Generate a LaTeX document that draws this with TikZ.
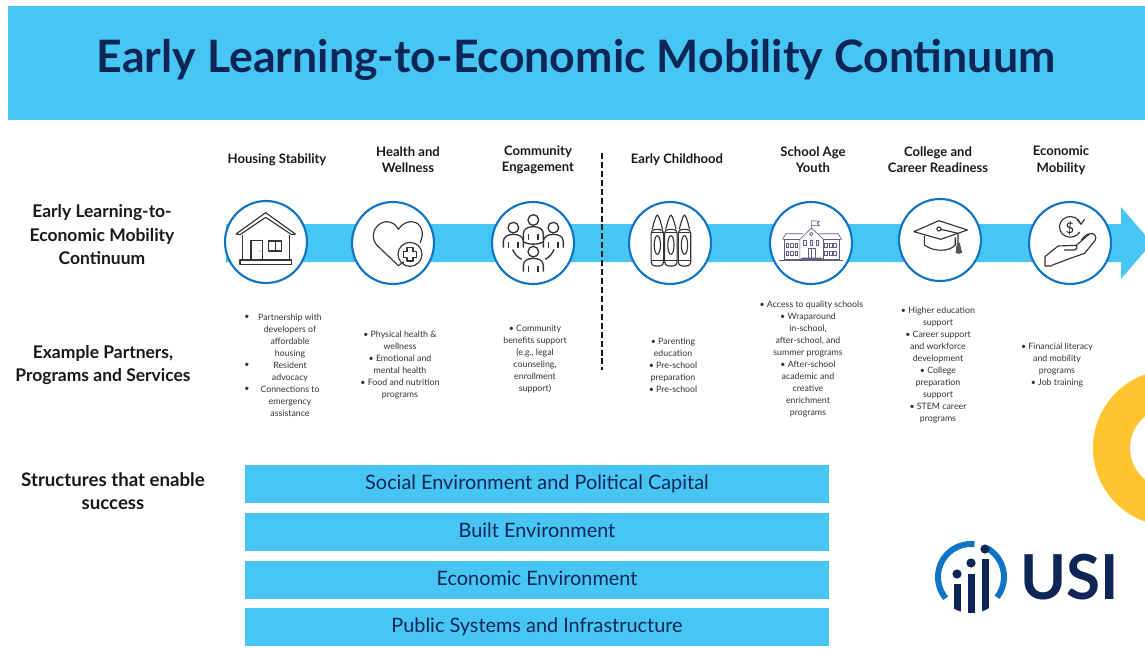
\documentclass[tikz,border=0pt]{standalone}
\usepackage{fontspec}
\setmainfont{Lato}
\definecolor{sky}{HTML}{48C6F3}
\definecolor{navy}{HTML}{0D2657}
\definecolor{ringblue}{HTML}{0E74C6}
\definecolor{gold}{HTML}{FFC42E}
\definecolor{ink}{HTML}{333333}
\definecolor{schoolc}{HTML}{5F5F85}
\newcommand{\fs}[2]{\fontsize{#1}{#2}\selectfont}
\tikzset{
  x=0.75pt,y=-0.75pt,
  band/.style={fill=sky,draw=none},
  bar/.style={band,minimum width=438pt,minimum height=28.5pt,inner sep=0pt,text=navy,font=\fs{14.9}{18},text height=11pt,text depth=3.5pt},
  hub/.style={circle,fill=white,draw=ringblue,line width=1.6pt,minimum size=61.5pt,inner sep=0pt},
  head/.style={align=center,font=\bfseries\fs{9.8}{12.4},text=black!90,inner sep=0pt},
  side/.style={align=center,font=\bfseries\fs{13.1}{17.6},text=black!90,inner sep=0pt},
  small/.style={align=center,font=\fs{6.6}{9},text=ink,inner sep=0pt},
  icon/.style={line width=0.85pt,draw=black!80,line join=round},
  zoomA/.style={shift={(200,190)},x=0.25pt,y=-0.25pt},
  zoomB/.style={shift={(600,190)},x=0.2607pt,y=-0.25pt},
}
\newcommand{\person}[2]{%
  \draw[icon,line width=1pt] (#1,#2) circle[radius=16];
  \draw[icon,line width=1pt] (#1-30,#2+60) -- (#1-30,#2+42) .. controls (#1-30,#2+26) and (#1-15,#2+20) .. (#1,#2+20) .. controls (#1+15,#2+20) and (#1+30,#2+26) .. (#1+30,#2+42) -- (#1+30,#2+60);
  \draw[icon,line width=1pt] (#1-14,#2+42) -- (#1-14,#2+60) (#1+14,#2+42) -- (#1+14,#2+60);
}
\newcommand{\crayon}[1]{%
  \draw[icon] (#1-15,118) -- (#1-9,95) .. controls (#1-5,82) and (#1-2,75) .. (#1,75) .. controls (#1+2,75) and (#1+5,82) .. (#1+9,95) -- (#1+15,118);
  \draw[icon,rounded corners=3pt] (#1-18,118) rectangle (#1+18,228);
  \draw[icon] (#1,165) ellipse[x radius=9,y radius=28];
  \draw[icon] (#1-18,128) -- (#1+18,128) (#1-18,212) -- (#1+18,212);
}
\begin{document}
\begin{tikzpicture}
\useasboundingbox (0,0) rectangle (1145,649);
\clip (0,0) rectangle (1145,649);
% title band
\fill[band] (8,6) rectangle (1145,120);
\node[inner sep=0pt,text=navy,font=\bfseries\fs{33.5}{38}] (title) at (576,60) {Early Learning-to-Economic Mobility Continuum};
% ring
\fill[gold,even odd rule] (1171,448) circle[radius=78] (1171,448) circle[radius=41];
% arrow
\fill[band] (226,224) -- (1121,224) -- (1121,207) -- (1152,243) -- (1121,279) -- (1121,262) -- (226,262) -- cycle;
% separator
\coordinate (sepA) at (602,153);
\coordinate (sepB) at (602,370);
\draw[black!90,line width=1.8pt,dash pattern=on 4.5pt off 2.2pt] (sepA) -- (sepB);
% hubs
\node[hub] (h1) at (266,242) {};
\node[hub] (h2) at (393,243) {};
\node[hub] (h3) at (533,243) {};
\node[hub] (h4) at (670,243) {};
\node[hub] (h5) at (811,243) {};
\node[hub] (h6) at (940,240) {};
\node[hub] (h7) at (1070,243) {};
% house
\begin{scope}[zoomA]
\draw[icon] (108,132) -- (197,68) -- (286,132) -- (275,134) -- (197,82) -- (120,134) -- cycle;
\draw[icon] (128,135) -- (128,210) (268,135) -- (268,210);
\draw[icon] (120,210) rectangle (275,223);
\draw[icon] (153,210) -- (153,152) -- (188,152) -- (188,210);
\fill[black!80] (180,183) circle[radius=2];
\draw[icon] (206,153) rectangle (245,183) (226,153) -- (226,183);
% heart
\draw[icon] (612,215) -- (595,227) -- (530,165) .. controls (505,135) and (530,95) .. (560,95) .. controls (575,95) and (590,105) .. (595,118) .. controls (605,100) and (625,95) .. (635,95) .. controls (665,97) and (675,130) .. (660,158);
\draw[icon] (630,193) circle[radius=36];
\draw[icon] (621,173) -- (639,173) -- (639,184) -- (650,184) -- (650,202) -- (639,202) -- (639,213) -- (621,213) -- (621,202) -- (610,202) -- (610,184) -- (621,184) -- cycle;
% people
\person{940}{113}
\person{1060}{113}
\person{1000}{90}
\person{1000}{185}
\draw[icon,line width=1pt] (938,178) .. controls (942,190) and (952,202) .. (965,208);
\draw[icon,line width=1pt] (1062,178) .. controls (1058,190) and (1048,202) .. (1035,208);
\draw[icon,line width=1pt] (970,155) .. controls (985,165) and (1015,165) .. (1030,155);
\end{scope}
\begin{scope}[zoomB]
% crayons
\crayon{165}
\crayon{204}
\crayon{243}
% school
\tikzset{sc/.style={line width=0.5pt,draw=schoolc}}
\draw[sc] (516,210) -- (700,210);
\draw[sc] (530,148) rectangle (590,208) (640,148) rectangle (688,208);
\draw[sc] (525,148) -- (535,131) -- (585,131) (630,131) -- (685,131) -- (695,148) -- (525,148);
\draw[sc,fill=white] (575,208) -- (575,148) -- (608,114) -- (643,148) -- (643,208);
\draw[sc] (608,114) -- (608,92) -- (631,94) -- (625,100) -- (631,107) -- (608,107);
\draw[sc] (608,132) circle[radius=5];
\foreach \wx in {539,552,565,650,663,676}
  \foreach \wy in {160,184}
    \draw[sc] (\wx-4,\wy) rectangle (\wx+4,\wy+13);
\foreach \wx in {590,608,625}
  \draw[sc] (\wx-4,152) rectangle (\wx+4,165);
\draw[sc] (598,208) -- (598,176) -- (620,176) -- (620,208) (609,176) -- (609,208);
\fill[schoolc] (570,210) -- (582,203) -- (636,203) -- (648,210) -- cycle;
% cap
\draw[icon] (903,125) -- (975,92) -- (1057,120) -- (980,148) -- cycle;
\draw[icon] (933,137) -- (933,165) .. controls (960,186) and (1005,186) .. (1022,165) -- (1022,142);
\draw[icon] (975,117) circle[radius=6] (981,118) -- (1030,130) -- (1030,158);
\fill[black!65] (1026,158) rectangle (1036,164) (1026,164) -- (1036,164) -- (1042,188) .. controls (1036,193) and (1028,193) .. (1023,188) -- cycle;
% money hand
\draw[icon] (1382,100) arc[start angle=-20,end angle=-330,radius=31];
\draw[icon] (1372,88) -- (1384,103) -- (1394,88);
\node[inner sep=0pt,font=\fs{11}{12},text=black!85] (dollar) at (1352,115) {\$};
\draw[icon] (1300,228) -- (1280,228) -- (1280,200) -- (1318,168) -- (1368,166) .. controls (1376,170) and (1372,180) .. (1362,180) -- (1335,180);
\draw[icon] (1368,168) -- (1408,132) .. controls (1420,125) and (1432,140) .. (1424,152) -- (1394,190) -- (1345,208) -- (1300,226);
\draw[icon] (1385,150) .. controls (1392,140) and (1402,130) .. (1408,132);
\end{scope}
% headers
\node[head] (t1) at (277,160) {Housing Stability};
\node[head] (t2) at (408,159.5) {Health and\\Wellness};
\node[head] (t3) at (538,160) {Community\\Engagement};
\node[head] (t4) at (677,160) {Early Childhood};
\node[head] (t5) at (813,159.5) {School Age\\Youth};
\node[head] (t6) at (938,159.5) {College and\\Career Readiness};
\node[head] (t7) at (1061,160) {Economic\\Mobility};
% side labels
\node[side] (s1) at (102,235) {Early Learning-to-\\Economic Mobility\\Continuum};
\node[side] (s2) at (103,365) {Example Partners,\\Programs and Services};
\node[side,font=\bfseries\fs{14}{17.6}] (s3) at (113,491) {Structures that enable\\success};
% lists
\node[small] (b1) at (247,365) {•\\ \mbox{}\\ \mbox{}\\ \mbox{}\\ •\\ \mbox{}\\ •\\ \mbox{}\\ \mbox{}};
\node[small] (l1) at (290,365) {Partnership with\\developers of\\affordable\\housing\\Resident\\advocacy\\Connections to\\emergency\\assistance};
\node[small] (l2) at (400,365) {• Physical health \&\\wellness\\• Emotional and\\mental health\\• Food and nutrition\\programs};
\node[small] (l3) at (535,359) {• Community\\benefits support\\(e.g., legal\\counseling,\\enrollment\\support)};
\node[small] (l4) at (673,365) {• Parenting\\education\\• Pre-school\\preparation\\• Pre-school};
\node[small] (l5) at (808,359) {\hspace*{5pt}• Access to quality schools\\• Wraparound\\in-school,\\after-school, and\\summer programs\\• After-school\\academic and\\creative\\enrichment\\programs};
\node[small] (l6) at (938,365) {• Higher education\\support\\• Career support\\and workforce\\development\\• College\\preparation\\support\\• STEM career\\programs};
\node[small] (l7) at (1057,365) {• Financial literacy\\and mobility\\programs\\• Job training};
% structure bars
\node[bar] (r1) at (537,484) {Social Environment and Political Capital};
\node[bar] (r2) at (537,532) {Built Environment};
\node[bar] (r3) at (537,580) {Economic Environment};
\node[bar] (r4) at (537,627) {Public Systems and Infrastructure};
% logo
\draw[ringblue,line width=4.5pt] (971,577) ++(-220:33) arc[start angle=-220,end angle=-84,radius=33];
\draw[ringblue,line width=4.5pt] (971,577) ++(-60:33) arc[start angle=-60,end angle=38,radius=33];
\begin{scope}
\clip (971,577) circle[radius=36];
\fill[navy] (953.5,584) rectangle (960.5,620);
\fill[navy] (967.5,574) rectangle (974.5,620);
\fill[navy] (982,559) rectangle (989,620);
\end{scope}
\fill[navy] (957,574) circle[radius=4.6] (971,563) circle[radius=4.6] (985,549) circle[radius=4.6];
\node[inner sep=0pt,text=navy,font=\bfseries\fs{46.5}{50}] (usi) at (1069.5,577) {USI};
\end{tikzpicture}
\end{document}
